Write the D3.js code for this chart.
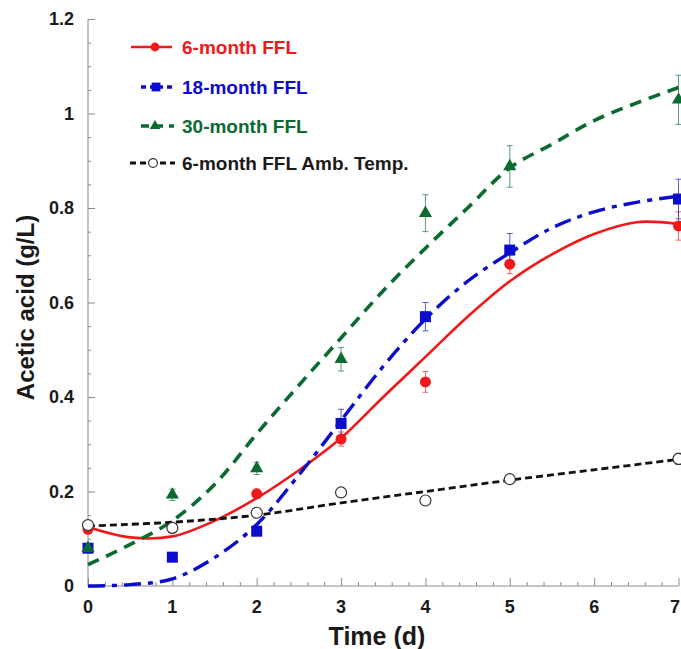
<!DOCTYPE html>
<html>
<head>
<meta charset="utf-8">
<script src="https://cdn.jsdelivr.net/npm/d3@7"></script>
<style>
  html, body { margin: 0; padding: 0; background: #fff; }
  svg { display: block; font-family: "Liberation Sans", Arial, sans-serif; }
</style>
</head>
<body>
<svg id="chart" width="681" height="649"></svg>
<script>
// Measured sampling days
const days = [0, 1, 2, 3, 4, 5, 7];

// Acetic acid (g/L), mean and error per sampling day
const ffl6 = [0.120, 0.122, 0.195, 0.311, 0.432, 0.681, 0.762];
const ffl6Err = [0.008, 0.008, 0.010, 0.015, 0.022, 0.020, 0.030];
const ffl18 = [0.080, 0.061, 0.116, 0.344, 0.570, 0.711, 0.819];
const ffl18Err = [0.005, 0.005, 0.008, 0.030, 0.030, 0.035, 0.042];
const ffl30 = [0.080, 0.193, 0.249, 0.480, 0.789, 0.888, 1.029];
const ffl30Err = [0.005, 0.012, 0.013, 0.025, 0.039, 0.044, 0.052];
const ambT = [0.129, 0.123, 0.155, 0.198, 0.181, 0.226, 0.269];
const ambTErr = [0.008, 0.005, 0.005, 0.008, 0.006, 0.008, 0.012];

// Fitted trend curves, sampled every half day
const fitDays = [0, 0.5, 1, 1.5, 2, 2.5, 3, 3.5, 4, 4.5, 5, 5.5, 6, 6.5, 7];
const fit6 = [0.125, 0.103, 0.105, 0.138, 0.186, 0.245, 0.313, 0.400, 0.485, 0.570, 0.645, 0.702, 0.745, 0.770, 0.766];
const fit18 = [0.000, 0.003, 0.015, 0.060, 0.130, 0.235, 0.350, 0.465, 0.565, 0.645, 0.705, 0.758, 0.792, 0.812, 0.825];
const fit30 = [0.045, 0.088, 0.138, 0.215, 0.322, 0.425, 0.525, 0.625, 0.715, 0.800, 0.885, 0.935, 0.985, 1.022, 1.055];
const fitAmbDays = [0, 1, 2, 3, 4, 5, 6, 7];
const fitAmb = [0.127, 0.135, 0.150, 0.176, 0.200, 0.224, 0.246, 0.268];

// Axis ticks
const yTicks = [0, 0.2, 0.4, 0.6, 0.8, 1, 1.2];
const yTickLabels = ["0", "0.2", "0.4", "0.6", "0.8", "1", "1.2"];
const xTicks = [0, 1, 2, 3, 4, 5, 6, 7];
const xTickLabels = ["0", "1", "2", "3", "4", "5", "6", "7"];

const seriesNames = ["6-month FFL", "18-month FFL", "30-month FFL", "6-month FFL Amb. Temp."];

const W = 681;
const svg = d3.select("#chart");
const x = d3.scaleLinear().domain([0, 7]).range([88, 678.5]);
const y = d3.scaleLinear().domain([0, 1.2]).range([586, 19]);

const series = [
  { name: seriesNames[0], vals: ffl6, err: ffl6Err, fx: fitDays, fy: fit6, color: "#f01818", width: 2.6, dash: null, marker: "circle" },
  { name: seriesNames[1], vals: ffl18, err: ffl18Err, fx: fitDays, fy: fit18, color: "#0c0ccc", width: 3.4, dash: "17,7,5,7", marker: "square" },
  { name: seriesNames[2], vals: ffl30, err: ffl30Err, fx: fitDays, fy: fit30, color: "#0a6a30", width: 3.6, dash: "12,8", marker: "triangle" },
  { name: seriesNames[3], vals: ambT, err: ambTErr, fx: fitAmbDays, fy: fitAmb, color: "#111111", width: 2.8, dash: "7,4", marker: "open" }
];

// Axes: thin grey lines with inward ticks
const axisColor = "#8a8a8a";
const gy = svg.append("g").attr("transform", `translate(${x(0)},0)`);
gy.call(d3.axisRight(y).tickValues(d3.range(0, 1.2001, 0.05)).tickSize(3).tickFormat(""));
gy.call(g2 => g2.selectAll(".tick").filter(d => yTicks.some(t => Math.abs(t - d) < 1e-6)).select("line").attr("x2", 7));
gy.select(".domain").attr("d", `M0,${y(0)}V${y(1.2)}`);
gy.selectAll("path, line").attr("stroke", axisColor).attr("stroke-width", 1);

const gx = svg.append("g").attr("transform", `translate(0,${y(0)})`);
gx.call(d3.axisTop(x).tickValues(d3.range(0, 7.0001, 0.2)).tickSize(4).tickFormat(""));
gx.call(g2 => g2.selectAll(".tick").filter(d => xTicks.some(t => Math.abs(t - d) < 1e-6)).select("line").attr("y2", -8));
gx.select(".domain").attr("d", `M${x(0)},0H${x(7)}`);
gx.selectAll("path, line").attr("stroke", axisColor).attr("stroke-width", 1);

// Tick labels
svg.append("g").selectAll("text").data(yTicks).join("text")
  .attr("x", 74).attr("y", d => y(d)).attr("dy", "0.35em")
  .attr("text-anchor", "end").attr("font-size", 18).attr("font-weight", "bold").attr("fill", "#1a1a1a")
  .text((d, i) => yTickLabels[i]);
svg.append("g").selectAll("text").data(xTicks).join("text")
  .attr("x", d => Math.min(x(d), W - 6)).attr("y", 613)
  .attr("text-anchor", "middle").attr("font-size", 18).attr("font-weight", "bold").attr("fill", "#1a1a1a")
  .text((d, i) => xTickLabels[i]);

// Axis titles
svg.append("text").attr("x", 377).attr("y", 645)
  .attr("text-anchor", "middle").attr("font-size", 25).attr("font-weight", "bold").attr("fill", "#1a1a1a")
  .text("Time (d)");
svg.append("text").attr("transform", `translate(34,${(y(0) + y(1.2)) / 2 + 5}) rotate(-90)`)
  .attr("text-anchor", "middle").attr("font-size", 24).attr("font-weight", "bold").attr("fill", "#1a1a1a")
  .text("Acetic acid (g/L)");

// Fitted curves
const line = d3.line().x(d => x(d[0])).y(d => y(d[1])).curve(d3.curveCatmullRom.alpha(0.5));
series.forEach(s => {
  svg.append("path")
    .attr("d", line(s.fx.map((d, i) => [d, s.fy[i]])))
    .attr("fill", "none").attr("stroke", s.color).attr("stroke-width", s.width)
    .attr("stroke-dasharray", s.dash).attr("stroke-linecap", "butt");
});

// Error bars
series.forEach(s => {
  const g = svg.append("g").attr("stroke", s.color).attr("stroke-width", 0.9).attr("opacity", 0.75);
  days.forEach((d, i) => {
    const cx = x(d), lo = y(s.vals[i] - s.err[i]), hi = y(s.vals[i] + s.err[i]);
    g.append("line").attr("x1", cx).attr("x2", cx).attr("y1", lo).attr("y2", hi);
    g.append("line").attr("x1", cx - 3).attr("x2", cx + 3).attr("y1", lo).attr("y2", lo);
    g.append("line").attr("x1", cx - 3).attr("x2", cx + 3).attr("y1", hi).attr("y2", hi);
  });
});

// Markers
function drawMarker(g, type, color, cx, cy, scale) {
  if (type === "circle") {
    g.append("circle").attr("cx", cx).attr("cy", cy).attr("r", 5.5 * scale).attr("fill", color);
  } else if (type === "square") {
    const h = 5.5 * scale;
    g.append("rect").attr("x", cx - h).attr("y", cy - h).attr("width", 2 * h).attr("height", 2 * h).attr("fill", color);
  } else if (type === "triangle") {
    g.append("path").attr("d", d3.symbol().type(d3.symbolTriangle).size(75 * scale * scale)())
      .attr("transform", `translate(${cx},${cy})`).attr("fill", color);
  } else {
    g.append("circle").attr("cx", cx).attr("cy", cy).attr("r", 5.5 * scale)
      .attr("fill", "#fff").attr("stroke", "#333").attr("stroke-width", 1.2);
  }
}
const mg = svg.append("g");
series.forEach(s => {
  days.forEach((d, i) => drawMarker(mg, s.marker, s.color, x(d), y(s.vals[i]), 1));
});

// Legend
const legendRows = [
  { y: 47, x1: 131, x2: 172, mx: 155 },
  { y: 87, x1: 141, x2: 174, mx: 156 },
  { y: 126, x1: 141, x2: 174, mx: 155 },
  { y: 163, x1: 130, x2: 175, mx: 153 }
];
const legendDash = [null, "5,4,13,4", "8,6", "6,4"];
series.forEach((s, i) => {
  const r = legendRows[i];
  const lg = svg.append("g");
  lg.append("line").attr("x1", r.x1).attr("x2", r.x2).attr("y1", r.y).attr("y2", r.y)
    .attr("stroke", s.color).attr("stroke-width", s.width).attr("stroke-dasharray", legendDash[i]);
  drawMarker(lg, s.marker, s.color, r.mx, r.y, 0.8);
  lg.append("text").attr("x", 182).attr("y", r.y).attr("dy", "0.36em")
    .attr("font-size", 19).attr("font-weight", "bold").attr("fill", i === 3 ? "#1a1a1a" : s.color)
    .text(s.name);
});
</script>
</body>
</html>
